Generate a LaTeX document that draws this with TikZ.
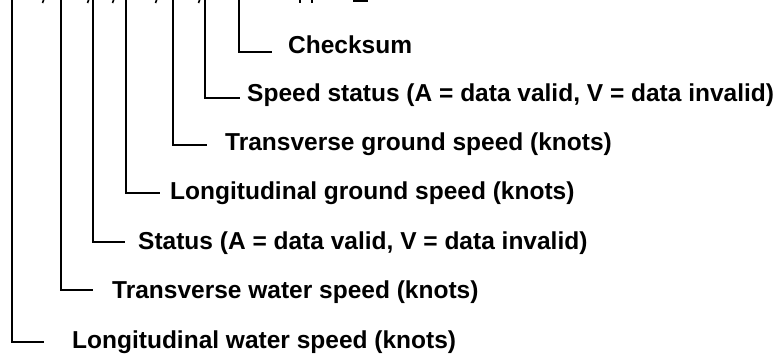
\documentclass[tikz,border=0pt]{standalone}
\usepackage{fontspec}
\setmainfont{Liberation Sans}
\begin{document}
\begin{tikzpicture}[x=1pt,y=-1pt,
  lead/.style={line width=2.4pt, line join=miter},
  lab/.style={anchor=base west, inner sep=0pt, font=\fontsize{24.5}{28}\selectfont\bfseries},
  frag/.style={line width=1.6pt}]
\useasboundingbox (0,0) rectangle (775,362);
% labels
\node[lab] (l1) at (288,53) {Checksum};
\node[lab] (l2) at (247,101) {Speed status (A = data valid, V = data invalid)};
\node[lab] (l3) at (225,150) {Transverse ground speed (knots)};
\node[lab] (l4) at (170,199) {Longitudinal ground speed (knots)};
\node[lab] (l5) at (138,249) {Status (A = data valid, V = data invalid)};
\node[lab] (l6) at (112,298) {Transverse water speed (knots)};
\node[lab] (l7) at (72,348) {Longitudinal water speed (knots)};
% leader tops and arm ends
\coordinate (t1) at (239,-3); \coordinate (e1) at (272,52);
\coordinate (t2) at (205,-3); \coordinate (e2) at (240,98);
\coordinate (t3) at (173,-3); \coordinate (e3) at (207,145);
\coordinate (t4) at (126,-3); \coordinate (e4) at (160,193);
\coordinate (t5) at (93,-3);  \coordinate (e5) at (125,242);
\coordinate (t6) at (61,-3);  \coordinate (e6) at (93,290);
\coordinate (t7) at (12,-3);  \coordinate (e7) at (44,342);
\foreach \i in {1,...,7} {\draw[lead] (t\i) |- (e\i);}
% cut-off fragments of the sentence above
\foreach \x in {43,88,113,156,199} {\draw[frag] (\x+1,-1) -- (\x-0.5,3);}
\draw[frag] (300,-1) -- (300,2.5);
\draw[frag] (312,-1) -- (312,2.5);
\draw[line width=2pt] (353,1) -- (368,1);
\end{tikzpicture}
\end{document}
